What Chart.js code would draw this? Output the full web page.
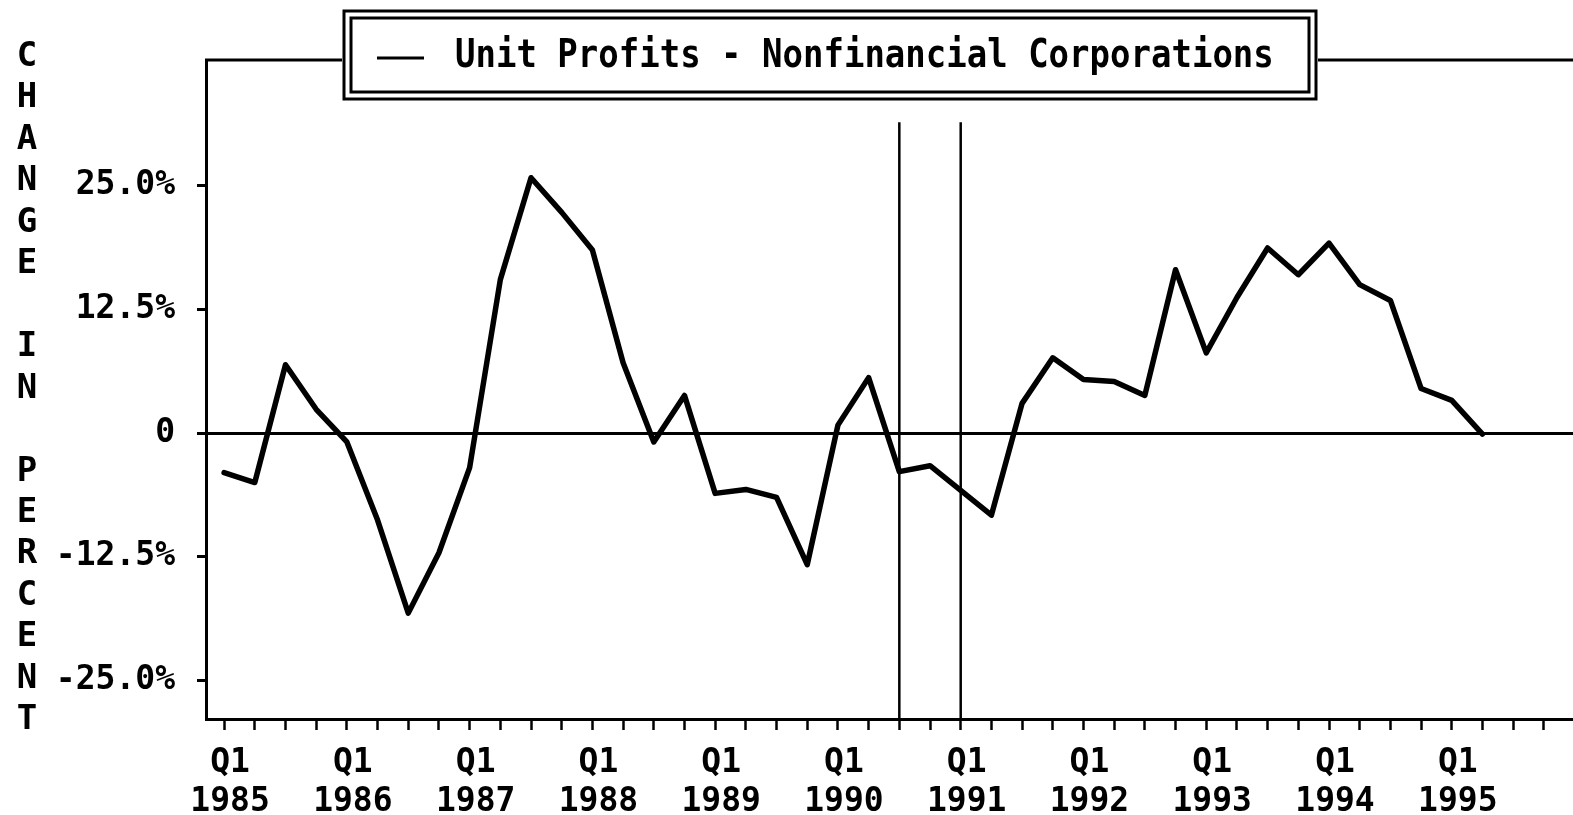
<!DOCTYPE html>
<html>
<head>
<meta charset="utf-8">
<script src="https://cdn.jsdelivr.net/npm/chart.js@4.4.1/dist/chart.umd.min.js"></script>
<style>
  html, body { margin: 0; padding: 0; background: #fff; }
  canvas { display: block; }
</style>
</head>
<body>
<canvas id="c" width="1573" height="815"></canvas>
<script>
// ---- data ----
const quarters = [
  '1985Q1','1985Q2','1985Q3','1985Q4',
  '1986Q1','1986Q2','1986Q3','1986Q4',
  '1987Q1','1987Q2','1987Q3','1987Q4',
  '1988Q1','1988Q2','1988Q3','1988Q4',
  '1989Q1','1989Q2','1989Q3','1989Q4',
  '1990Q1','1990Q2','1990Q3','1990Q4',
  '1991Q1','1991Q2','1991Q3','1991Q4',
  '1992Q1','1992Q2','1992Q3','1992Q4',
  '1993Q1','1993Q2','1993Q3','1993Q4',
  '1994Q1','1994Q2','1994Q3','1994Q4',
  '1995Q1','1995Q2'
];
const unitProfitsChange = [
  -4.0, -5.0, 6.9, 2.4,
  -0.9, -8.8, -18.2, -12.1,
  -3.5, 15.5, 25.8, 22.3,
  18.5, 7.1, -0.9, 3.8,
  -6.1, -5.7, -6.5, -13.3,
  0.8, 5.6, -3.9, -3.3,
  -5.8, -8.3, 3.0, 7.6,
  5.4, 5.2, 3.8, 16.5,
  8.1, 13.7, 18.7, 16.0,
  19.2, 15.0, 13.4, 4.5,
  3.3, -0.1
];
const yearLabels = ['1985','1986','1987','1988','1989','1990','1991','1992','1993','1994','1995'];
const quarterLabel = 'Q1';
const yTickValues = [25, 12.5, 0, -12.5, -25];
const yTickLabels = ['25.0%', '12.5%', '0', '-12.5%', '-25.0%'];
const recessionMarks = ['1990Q3', '1991Q1'];
const recessionTop = 31.4;
const yMin = -28.9, yMax = 37.7;
const seriesName = 'Unit Profits - Nonfinancial Corporations';
const axisTitle = ['C','H','A','N','G','E','','I','N','','P','E','R','C','E','N','T'];

// ---- build ----
const FONT = '"DejaVu Sans Mono", "Liberation Mono", monospace';
const lineData = unitProfitsChange.map((v, i) => ({ x: i, y: v }));
const recessionSets = recessionMarks.map(q => {
  const i = quarters.indexOf(q);
  return {
    label: 'rec' + q,
    data: [{ x: i, y: yMin }, { x: i, y: recessionTop }],
    borderColor: '#000', borderWidth: 2.5, pointRadius: 0, tension: 0
  };
});
const numTicks = 44;

const overlay = {
  id: 'overlay',
  afterDraw(chart) {
    const ctx = chart.ctx;
    const ca = chart.chartArea;
    ctx.save();
    // top frame line
    ctx.strokeStyle = '#000';
    ctx.lineWidth = 3;
    ctx.beginPath();
    ctx.moveTo(ca.left - 1, ca.top);
    ctx.lineTo(ca.right, ca.top);
    ctx.stroke();
    // legend box (double border)
    ctx.fillStyle = '#fff';
    ctx.fillRect(342, 9, 976, 92);
    ctx.lineWidth = 3;
    ctx.strokeRect(344, 11, 972, 88);
    ctx.strokeRect(351, 18, 958, 74);
    // legend sample line
    ctx.lineWidth = 3;
    ctx.beginPath();
    ctx.moveTo(377, 58);
    ctx.lineTo(424, 58);
    ctx.stroke();
    // legend text
    ctx.fillStyle = '#000';
    ctx.font = 'bold 34px ' + FONT;
    ctx.textBaseline = 'middle';
    ctx.textAlign = 'left';
    ctx.save();
    ctx.translate(455, 57);
    ctx.scale(1, 1.14);
    ctx.fillText(seriesName, 0, 0);
    ctx.restore();
    // stacked axis title
    ctx.font = 'bold 34px ' + FONT;
    ctx.textAlign = 'center';
    ctx.textBaseline = 'middle';
    axisTitle.forEach((ch, k) => {
      if (ch) ctx.fillText(ch, 27, 57 + k * 41.47);
    });
    ctx.restore();
  }
};

new Chart(document.getElementById('c'), {
  type: 'line',
  data: {
    datasets: [
      {
        label: seriesName,
        data: lineData,
        borderColor: '#000',
        borderWidth: 5.5,
        pointRadius: 0,
        tension: 0,
        borderJoinStyle: 'round',
        borderCapStyle: 'round'
      },
      ...recessionSets
    ]
  },
  options: {
    responsive: false,
    devicePixelRatio: 1,
    animation: false,
    events: [],
    layout: { padding: { top: 60, left: 0, right: 0, bottom: 0 } },
    plugins: { legend: { display: false }, tooltip: { enabled: false }, title: { display: false } },
    scales: {
      x: {
        type: 'linear',
        min: -0.59,
        max: 43.95,
        afterFit(axis) { axis.height = 96; },
        afterBuildTicks(axis) {
          const t = [];
          for (let i = 0; i < numTicks; i++) t.push({ value: i });
          axis.ticks = t;
        },
        border: { display: true, color: '#000', width: 3 },
        grid: {
          drawOnChartArea: false,
          drawTicks: true,
          tickLength: 11,
          tickWidth: 2.5,
          tickColor: '#000'
        },
        ticks: {
          autoSkip: false,
          maxRotation: 0,
          minRotation: 0,
          padding: 13,
          labelOffset: 6,
          color: '#000',
          font: { family: FONT, size: 33, weight: 'bold', lineHeight: 1.21 },
          callback(value) {
            if (value % 4 === 0 && yearLabels[value / 4] !== undefined) {
              return [quarterLabel, yearLabels[value / 4]];
            }
            return '';
          }
        }
      },
      y: {
        type: 'linear',
        min: yMin,
        max: yMax,
        afterFit(axis) { axis.width = 206; },
        afterBuildTicks(axis) {
          axis.ticks = yTickValues.map(v => ({ value: v }));
        },
        border: { display: true, color: '#000', width: 3 },
        grid: {
          drawOnChartArea: true,
          drawTicks: true,
          tickLength: 9,
          tickWidth: 3,
          tickColor: '#000',
          lineWidth: 3,
          color(ctx) { return ctx.tick && ctx.tick.value === 0 ? '#000' : 'rgba(0,0,0,0)'; }
        },
        ticks: {
          padding: 22,
          color: '#000',
          font: { family: FONT, size: 33, weight: 'bold' },
          callback(value) {
            const k = yTickValues.indexOf(value);
            return k >= 0 ? yTickLabels[k] : '';
          }
        }
      }
    }
  },
  plugins: [overlay]
});
</script>
</body>
</html>
